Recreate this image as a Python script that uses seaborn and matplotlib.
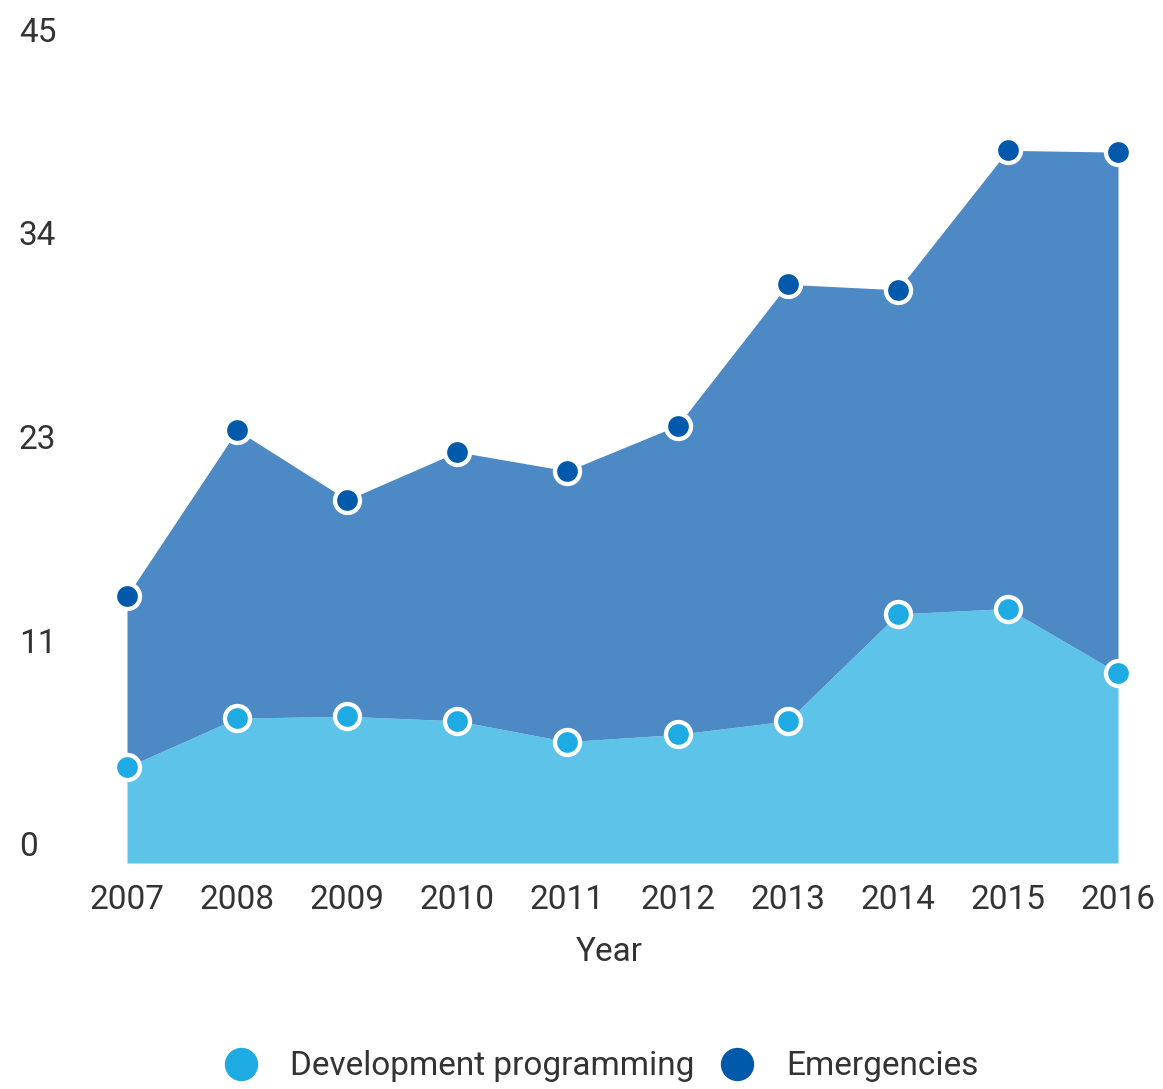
import matplotlib as mpl
mpl.use('Agg')
import numpy as np
import pandas as pd
import seaborn as sns
import matplotlib.pyplot as plt
from matplotlib.transforms import ScaledTranslation
from matplotlib.lines import Line2D

years = [2007, 2008, 2009, 2010, 2011, 2012, 2013, 2014, 2015, 2016]
development = [5.3, 8.0, 8.1, 7.85, 6.7, 7.1, 7.85, 13.75, 14.05, 10.5]
emergencies = [9.45, 15.9, 11.95, 14.85, 14.95, 17.05, 24.1, 17.9, 25.3, 28.75]
ytick_vals = [0, 11.25, 22.5, 33.75, 45]
ytick_labels = ["0", "11", "23", "34", "45"]

dev_fill, dev_dot = "#5dc3e8", "#1eaae2"
em_fill, em_dot = "#4d89c4", "#0059ab"
txt = "#333333"

sns.set_theme(style="white")
plt.rcParams['font.family'] = ['Roboto', 'DejaVu Sans']

df = pd.DataFrame({"Year": years, "dev": development, "em": emergencies})
df["top"] = df["dev"] + df["em"]

fig = plt.figure(figsize=(11.63, 10.89), dpi=100)
ax = fig.add_axes([127 / 1163, 226 / 1089, 991 / 1163, 815 / 1089])

ax.stackplot(df["Year"], df["dev"], df["em"], colors=[dev_fill, em_fill], linewidth=0)

sns.scatterplot(data=df, x="Year", y="dev", ax=ax, color=dev_dot, s=324,
                edgecolor="white", linewidth=3.1, zorder=5, clip_on=False)
sns.scatterplot(data=df, x="Year", y="top", ax=ax, color=em_dot, s=324,
                edgecolor="white", linewidth=3.1, zorder=5, clip_on=False)

ax.set_xlim(2007, 2016)
ax.set_ylim(0, 45)
sns.despine(ax=ax, left=True, bottom=True)

ax.set_xticks(years)
ax.set_xticklabels([str(y) for y in years])
ax.tick_params(axis='x', length=0, pad=15, labelsize=24, labelcolor=txt)

ax.set_yticks(ytick_vals)
ax.set_yticklabels(ytick_labels)
ax.tick_params(axis='y', length=0, pad=0, labelsize=24, labelcolor=txt)
for lab in ax.get_yticklabels():
    lab.set_horizontalalignment('left')
    lab.set_transform(lab.get_transform() + ScaledTranslation(-1.08, 0.19, fig.dpi_scale_trans))

ax.set_ylabel("")
ax.set_xlabel("Year", fontsize=24, color=txt)
ax.xaxis.set_label_coords((609 - 127) / 991, -73 / 815)

handles = [
    Line2D([], [], linestyle='none', marker='o', markersize=24, color=dev_dot, markeredgewidth=0),
    Line2D([], [], linestyle='none', marker='o', markersize=24, color=em_dot, markeredgewidth=0),
]
leg = fig.legend(handles, ["Development programming", "Emergencies"], loc='lower center',
                 bbox_to_anchor=(0.51, -10 / 1089), ncol=2, frameon=False,
                 fontsize=24, handletextpad=0.45, columnspacing=0.3, borderpad=0)
for t in leg.get_texts():
    t.set_color(txt)

fig.savefig("out.png", dpi=100)
